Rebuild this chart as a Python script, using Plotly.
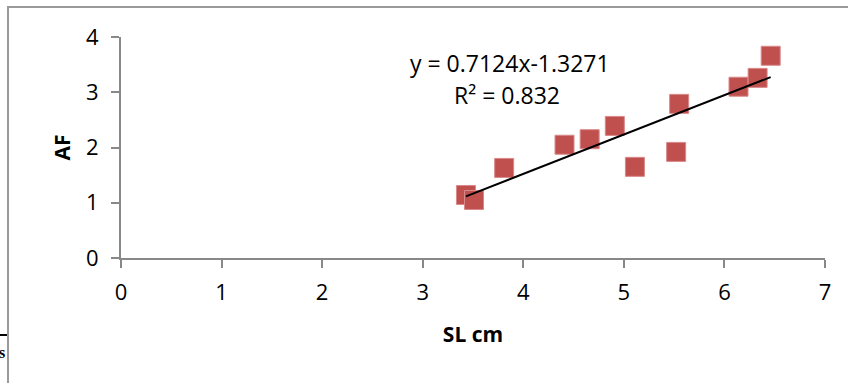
import numpy as np
import plotly.graph_objects as go

# Data
sl_cm = [3.43, 3.51, 3.81, 4.41, 4.66, 4.91, 5.11, 5.52, 5.55, 6.14, 6.33, 6.46]
af = [1.14, 1.05, 1.63, 2.05, 2.15, 2.39, 1.65, 1.92, 2.79, 3.10, 3.26, 3.66]
slope = 0.7124
intercept = -1.3271
r_squared = 0.832
x_ticks = [0, 1, 2, 3, 4, 5, 6, 7]
y_ticks = [0, 1, 2, 3, 4]

W, H = 848, 383
FONT = "Open Sans"
BORDER = "#9A9A9A"
fig = go.Figure()

fig.add_trace(go.Scatter(
    x=sl_cm, y=af, mode="markers",
    marker=dict(symbol="square", size=19, color="#C0504D",
                line=dict(color="#D9898A", width=1)),
    showlegend=False, hoverinfo="x+y"))

tx = np.array([min(sl_cm), max(sl_cm)])
fig.add_trace(go.Scatter(
    x=tx, y=slope * tx + intercept, mode="lines",
    line=dict(color="black", width=2), showlegend=False, hoverinfo="skip"))

fig.add_annotation(text=f"y = {slope}x{intercept}", xref="paper", yref="paper",
                   x=510 / W, y=1 - 63 / H, xanchor="center", yanchor="middle",
                   showarrow=False, font=dict(family=FONT, size=23, color="black"))
fig.add_annotation(text=f"R² = {r_squared}", xref="paper", yref="paper",
                   x=507 / W, y=1 - 95 / H, xanchor="center", yanchor="middle",
                   showarrow=False, font=dict(family=FONT, size=23, color="black"))

# page artifacts: chart border (filled strips) and text fragment at the left edge
fig.add_shape(type="rect", xref="paper", yref="paper", layer="above",
              x0=7 / W, x1=1, y0=1 - 8 / H, y1=1 - 6 / H,
              fillcolor=BORDER, line=dict(width=0))
fig.add_shape(type="rect", xref="paper", yref="paper", layer="above",
              x0=7 / W, x1=9 / W, y0=0, y1=1 - 6 / H,
              fillcolor=BORDER, line=dict(width=0))
fig.add_shape(type="rect", xref="paper", yref="paper", layer="above",
              x0=0, x1=7 / W, y0=1 - 336 / H, y1=1 - 334 / H,
              fillcolor="black", line=dict(width=0))
fig.add_annotation(text=" ", xref="paper", yref="paper",
                   x=7 / W, y=1 - 6 / H, xanchor="left", yanchor="top",
                   width=900, height=420, borderwidth=2, borderpad=0,
                   bordercolor=BORDER, showarrow=False)
fig.add_annotation(text="<b>s</b>", xref="paper", yref="paper",
                   x=7 / W, y=1 - 352 / H, xanchor="right", yanchor="middle",
                   showarrow=False,
                   font=dict(family="Liberation Serif", size=16, color="black"))

fig.update_xaxes(range=[0, 7], tickvals=x_ticks, showgrid=False, zeroline=False,
                 domain=[121 / W, 825 / W],
                 showline=True, linecolor="#888888", linewidth=2,
                 ticks="outside", ticklen=8, tickcolor="#888888", tickwidth=2,
                 ticklabelstandoff=6, automargin=False,
                 tickfont=dict(family=FONT, size=22, color="black"),
                 title=dict(text="<b>SL cm</b>", standoff=22,
                            font=dict(family=FONT, size=21, color="black")))
fig.update_yaxes(range=[0, 4], tickvals=y_ticks, showgrid=False, zeroline=False,
                 domain=[1 - 258 / H, 1 - 37 / H],
                 showline=True, linecolor="#888888", linewidth=2,
                 ticks="outside", ticklen=8, tickcolor="#888888", tickwidth=2,
                 ticklabelstandoff=8, automargin=False,
                 tickfont=dict(family=FONT, size=22, color="black"),
                 title=dict(text="<b>AF</b>", standoff=10,
                            font=dict(family=FONT, size=21, color="black")))

fig.update_layout(width=W, height=H, margin=dict(l=0, r=0, t=0, b=0, pad=0),
                  paper_bgcolor="white", plot_bgcolor="white")

fig.write_html("out.html", config={"displayModeBar": False},
               post_script="document.body.style.margin='0';document.body.style.overflow='hidden';")
